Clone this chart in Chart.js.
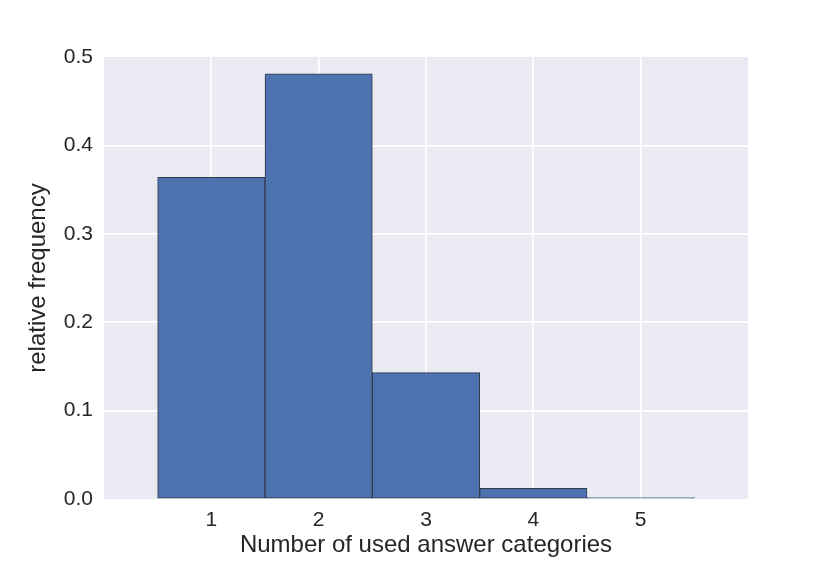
<!DOCTYPE html>
<html>
<head>
<meta charset="utf-8">
<script src="https://cdn.jsdelivr.net/npm/chart.js@4/dist/chart.umd.min.js"></script>
<style>
  html, body { margin: 0; padding: 0; background: #ffffff; }
  canvas { display: block; }
</style>
</head>
<body>
<canvas id="chart" width="830" height="571"></canvas>
<script>
// Number of used answer categories (bar centres on the x axis).
var categories = [1, 2, 3, 4, 5];
// Relative frequency.
var frequencies = [0.364, 0.481, 0.143, 0.012, 0.0015];
// Axis ticks.
var xTicks = [1, 2, 3, 4, 5];
var yTickStep = 0.1;

var textColor = '#262626';
var fontFamily = '"Liberation Sans", Arial, Helvetica, sans-serif';

// Fill the plot area with the seaborn grey before anything else.
var plotBackground = {
  id: 'plotBackground',
  beforeDraw: function (chart) {
    var area = chart.chartArea;
    var ctx = chart.ctx;
    ctx.save();
    ctx.fillStyle = '#EAEAF2';
    ctx.fillRect(area.left, area.top, area.right - area.left, area.bottom - area.top);
    ctx.restore();
  },
};

var points = categories.map(function (c, i) {
  return { x: c, y: frequencies[i] };
});

// Hide the white grid lines on the edges of the plot area.
function edgeAware(scaleMin, scaleMax) {
  return function (ctx) {
    var v = ctx.tick && ctx.tick.value;
    if (Math.abs(v - scaleMin) < 1e-9 || Math.abs(v - scaleMax) < 1e-9) {
      return 'rgba(255,255,255,0)';
    }
    return '#ffffff';
  };
}

new Chart(document.getElementById('chart'), {
  type: 'bar',
  data: {
    datasets: [{
      data: points,
      backgroundColor: '#4C72B0',
      borderColor: '#333a48',
      borderWidth: 1,
      borderSkipped: false,
      barPercentage: 1,
      categoryPercentage: 1,
    }],
  },
  options: {
    responsive: false,
    animation: false,
    layout: { padding: { top: 57, right: 82, left: 0, bottom: 0 } },
    plugins: {
      legend: { display: false },
      tooltip: { enabled: false },
    },
    scales: {
      x: {
        type: 'linear',
        offset: false,
        min: 0,
        max: 6,
        border: { display: false },
        grid: { offset: false, drawTicks: false, lineWidth: 1.7, color: edgeAware(0, 6) },
        afterBuildTicks: function (scale) {
          scale.ticks = [0].concat(xTicks, [6]).map(function (v) { return { value: v }; });
        },
        ticks: {
          padding: 9,
          color: textColor,
          font: { family: fontFamily, size: 21 },
          callback: function (value) {
            return xTicks.indexOf(value) >= 0 ? String(value) : '';
          },
        },
        title: {
          display: true,
          text: 'Number of used answer categories',
          color: textColor,
          font: { family: fontFamily, size: 24 },
          padding: { top: 0, bottom: 11 },
        },
        afterFit: function (scale) { scale.height = 72; },
      },
      y: {
        min: 0,
        max: 0.5,
        border: { display: false },
        grid: { drawTicks: false, lineWidth: 1.7, color: edgeAware(0, 0.5) },
        ticks: {
          stepSize: yTickStep,
          padding: 11,
          color: textColor,
          font: { family: fontFamily, size: 21 },
          callback: function (value) { return Number(value).toFixed(1); },
        },
        title: {
          display: true,
          text: 'relative frequency',
          color: textColor,
          font: { family: fontFamily, size: 24 },
          padding: { top: 24, bottom: 0 },
        },
        afterFit: function (scale) { scale.width = 104; },
      },
    },
  },
  plugins: [plotBackground],
});
</script>
</body>
</html>
